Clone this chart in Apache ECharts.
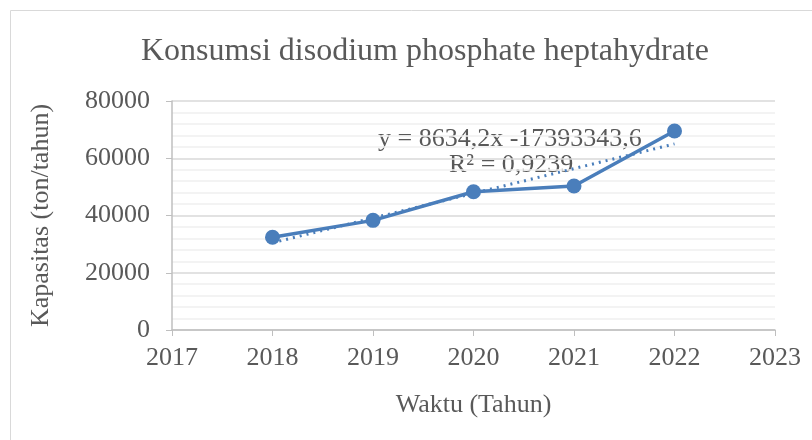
<!DOCTYPE html>
<html><head><meta charset="utf-8">
<script src="https://cdn.jsdelivr.net/npm/echarts@6/dist/echarts.min.js"></script>
<style>html,body{margin:0;padding:0;background:#fff}#c{width:812px;height:440px}</style>
</head><body><div id="c"></div>
<script>
const years = [2018, 2019, 2020, 2021, 2022];
const konsumsi = [32400, 38300, 48300, 50300, 69500];
const trendSlope = 8634.2;
const trendIntercept = -17393343.6;
const trendYears = [2018, 2022];
const titleText = 'Konsumsi disodium phosphate heptahydrate';
const eqText = 'y = 8634,2x -17393343,6';
const r2Text = 'R² = 0,9239';

const font = '"Liberation Serif", "Times New Roman", serif';
const txt = '#595959';
const chart = echarts.init(document.getElementById('c'));
chart.setOption({
  animation: false,
  title: { text: titleText, left: 136, top: 31, textStyle: { fontFamily: font, fontWeight: 'normal', fontSize: 32, color: txt } },
  grid: { left: 172, right: 37, top: 101, bottom: 110 },
  xAxis: {
    type: 'value', min: 2017, max: 2023, interval: 1,
    name: 'Waktu (Tahun)', nameLocation: 'middle', nameGap: 62,
    nameTextStyle: { fontFamily: font, fontSize: 26, color: txt },
    axisLine: { lineStyle: { color: '#bfbfbf', width: 1.5 } },
    axisTick: { show: true, length: 6, lineStyle: { color: '#bfbfbf' } },
    axisLabel: { fontFamily: font, fontSize: 26, color: txt, margin: 15, formatter: v => String(v) },
    splitLine: { show: false }
  },
  yAxis: {
    type: 'value', min: 0, max: 80000, interval: 20000,
    name: 'Kapasitas (ton/tahun)', nameLocation: 'middle', nameGap: 118, nameRotate: 90,
    nameTextStyle: { fontFamily: font, fontSize: 26, color: txt },
    axisLine: { show: true, lineStyle: { color: '#bfbfbf', width: 1.5 } },
    axisTick: { show: true, length: 6, lineStyle: { color: '#bfbfbf' } },
    axisLabel: { fontFamily: font, fontSize: 26, color: txt, margin: 22, formatter: v => String(v) },
    splitLine: { lineStyle: { color: '#d9d9d9', width: 1.5 } },
    minorTick: { show: false, splitNumber: 5 },
    minorSplitLine: { show: true, lineStyle: { color: '#f0f0f0', width: 1.5 } }
  },
  series: [
    {
      type: 'line', data: trendYears.map(x => [x, trendSlope * x + trendIntercept]),
      symbol: 'none', lineStyle: { color: '#4a7ebb', width: 3, type: [2, 5] }, z: 2
    },
    {
      type: 'line', data: years.map((x, i) => [x, konsumsi[i]]),
      symbol: 'circle', symbolSize: 15, itemStyle: { color: '#4a7ebb' },
      lineStyle: { color: '#4a7ebb', width: 3.5 }, z: 3
    }
  ],
  graphic: [
    { type: 'rect', shape: { x: 10.5, y: 10.5, width: 812, height: 440 }, style: { fill: 'none', stroke: '#d9d9d9', lineWidth: 1 }, silent: true },
    { type: 'text', left: 378, top: 126, style: { text: eqText, font: '26px ' + font, fill: txt } },
    { type: 'text', left: 449, top: 152, style: { text: r2Text, font: '26px ' + font, fill: txt } }
  ]
});
</script></body></html>
